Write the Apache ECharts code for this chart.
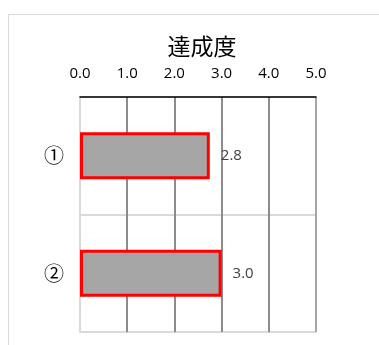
<!DOCTYPE html>
<html><head><meta charset="utf-8">
<script src="https://cdn.jsdelivr.net/npm/echarts@6/dist/echarts.min.js"></script>
<style>html,body{margin:0;padding:0;background:#fff}#c{width:379px;height:345px}</style>
</head><body><div id="c"></div>
<script>
var title = '達成度';
var categories = ['①', '②'];
var values = [2.75, 3.0];
var tickLabels = ['0.0', '1.0', '2.0', '3.0', '4.0', '5.0'];

var chart = echarts.init(document.getElementById('c'), null, {renderer: 'canvas'});
chart.setOption({
  animation: false,
  backgroundColor: '#fff',
  title: {
    text: title, left: 197, top: 30, textAlign: 'center',
    textStyle: {fontSize: 23, fontWeight: 'normal', color: '#000', fontFamily: 'Noto Sans CJK JP'}
  },
  graphic: [{
    type: 'rect', left: 6, top: 12, silent: true,
    shape: {x: 0.5, y: 0.5, width: 420, height: 420},
    style: {fill: 'none', stroke: '#d9d9d9', lineWidth: 1}
  }],
  grid: {left: 80, right: 63, top: 97, bottom: 13, containLabel: false},
  xAxis: {
    type: 'value', position: 'top', min: 0, max: 5, interval: 1,
    axisLine: {show: true, lineStyle: {color: '#000', width: 1.5}},
    axisTick: {show: false},
    axisLabel: {
      margin: 16, fontSize: 15, color: '#000', fontFamily: 'Open Sans',
      formatter: function (v) { return tickLabels[Math.round(v)]; }
    },
    splitLine: {show: true, lineStyle: {color: ['#d9d9d9', '#8c8c8c', '#8c8c8c', '#8c8c8c', '#8c8c8c', '#a6a6a6'], width: 2}}
  },
  yAxis: {
    type: 'category', inverse: true, data: categories,
    axisLine: {show: true, lineStyle: {color: '#d9d9d9', width: 2}},
    axisTick: {show: false},
    axisLabel: {margin: 16, fontSize: 20, color: '#000', fontFamily: 'Noto Sans CJK JP'},
    splitLine: {show: true, lineStyle: {color: '#d9d9d9', width: 2}}
  },
  series: [{
    type: 'bar', data: values, barWidth: '40%',
    itemStyle: {color: '#a6a6a6', borderColor: '#ff0000', borderWidth: 3},
    label: {
      show: true, position: 'right', distance: 11, fontSize: 15, color: '#404040', fontFamily: 'Open Sans',
      formatter: function (p) { return p.value.toFixed(1); }
    }
  }]
});
</script></body></html>
